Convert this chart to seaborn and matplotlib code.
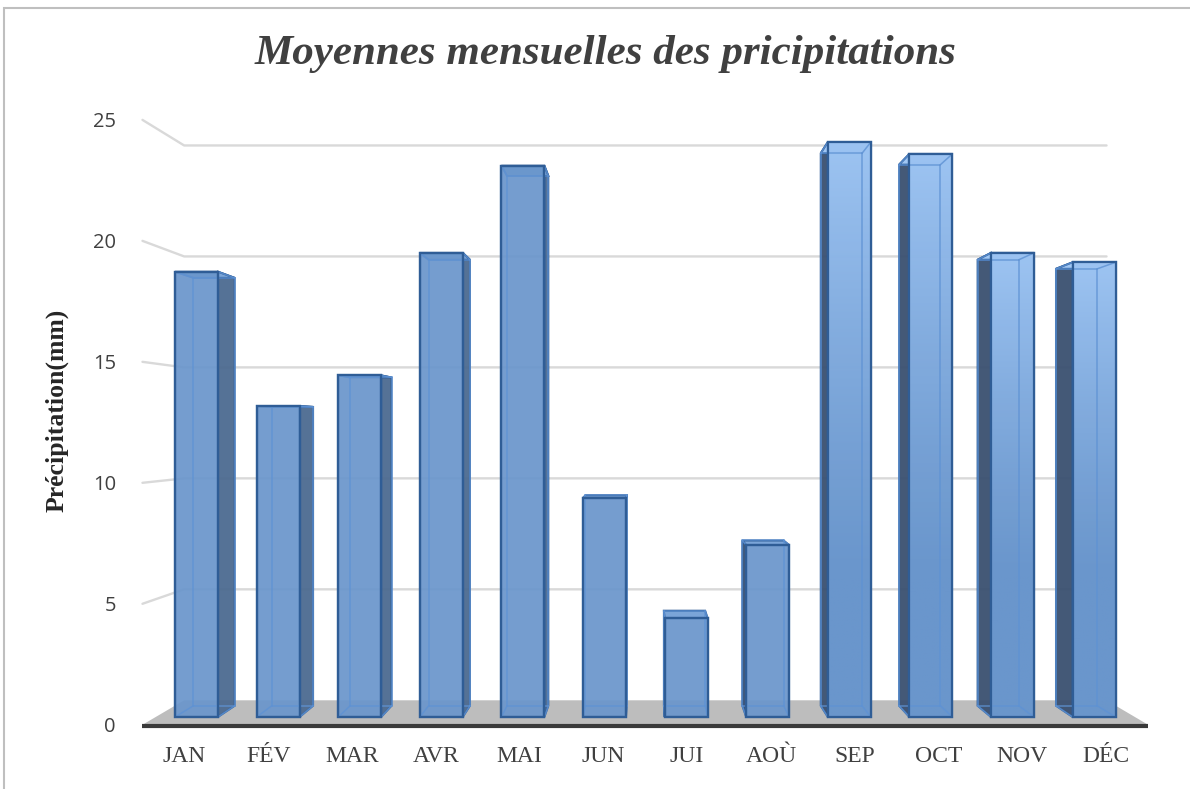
import numpy as np
import matplotlib.pyplot as plt
import seaborn as sns
from matplotlib.patches import Polygon, Rectangle
from matplotlib.colors import to_rgb

months = ["JAN", "FÉV", "MAR", "AVR", "MAI", "JUN", "JUI", "AOÙ", "SEP", "OCT", "NOV", "DÉC"]
precip = [18.9, 13.2, 14.5, 19.7, 23.4, 9.3, 4.2, 7.3, 24.4, 23.9, 19.7, 19.3]
yticks = [0, 5, 10, 15, 20, 25]
title = "Moyennes mensuelles des pricipitations"
ylabel = "Précipitation(mm)"

W, H = 1190, 789
# pixel layout of the bars' front plane
x0, xstep = 196.5, 81.6
y0, ystep = 717, 23.56
bar_w = 0.527

# fake 3D: every depth plane is a scaling around the vanishing centre
vx = (646 - x0) / xstep
vy = (y0 - 429) / ystep
S_FRONT, S_BACK, S_WALL = 1.027, 0.961, 0.942


def proj(x, y, s):
    return vx + s * (x - vx), vy + s * (y - vy)


front_col = "#6A96CC"
light_col = "#A0C7F5"
edge_col = "#2F5D96"
inner_col = "#5E92D4"
side_left_bars = "#4C6A90"
side_right_bars = "#3A5070"

sns.set_theme(style="white")
plt.rcParams['font.family'] = ['Open Sans', 'DejaVu Sans']

fig = plt.figure(figsize=(W / 100, H / 100), dpi=100)
xlim = (-0.75, 11.75)
ylim = (-0.6, 26.5)
left = x0 + xlim[0] * xstep
right = x0 + xlim[1] * xstep
bottom = H - (y0 - ylim[0] * ystep)
top = H - (y0 - ylim[1] * ystep)
ax = fig.add_axes([left / W, bottom / H, (right - left) / W, (top - bottom) / H])

sns.barplot(x=months, y=precip, order=months, width=bar_w, color=front_col,
            saturation=1, edgecolor=edge_col, linewidth=1.6, alpha=0.93,
            zorder=3, ax=ax)
ax.set_xlim(*xlim)
ax.set_ylim(*ylim)

# back wall gridlines with the little diagonal on the left
for g in yticks[1:]:
    pts = [proj(-0.5, g, S_FRONT), proj(-0.5, g, S_WALL), proj(11.5, g, S_WALL)]
    ax.plot([p[0] for p in pts], [p[1] for p in pts], color="#D9D9D9",
            lw=1.7, zorder=0.5, clip_on=False)

# floor
floor = [proj(-0.5, 0, S_FRONT), proj(11.5, 0, S_FRONT),
         proj(11.5, 0, S_WALL), proj(-0.5, 0, S_WALL)]
ax.add_patch(Polygon(floor, closed=True, facecolor="#BDBDBD", edgecolor="none",
                     zorder=1, clip_on=False))
ax.plot([floor[0][0], floor[1][0]], [floor[0][1] - 0.05, floor[1][1] - 0.05],
        color="#3A3A3A", lw=3, zorder=1.5, solid_capstyle="butt", clip_on=False)

# side faces, top faces and see-through edges
for i, bar in enumerate(ax.patches[:len(precip)]):
    xl = bar.get_x()
    xr = xl + bar.get_width()
    h = bar.get_height()
    cx = xl + bar.get_width() / 2
    bl, br = proj(xl, 0, S_BACK), proj(xr, 0, S_BACK)
    tl, tr = proj(xl, h, S_BACK), proj(xr, h, S_BACK)
    if cx < vx:
        side = [(xr, 0), (xr, h), tr, br]
        scol = side_left_bars
    else:
        side = [(xl, 0), (xl, h), tl, bl]
        scol = side_right_bars
    ax.add_patch(Polygon(side, closed=True, facecolor=scol, edgecolor=edge_col,
                         lw=1.4, alpha=0.95, zorder=2, clip_on=False))
    topc = light_col if i >= 8 else "#7BA5D8"
    ax.add_patch(Polygon([(xl, h), (xr, h), tr, tl], closed=True, facecolor=topc,
                         edgecolor=edge_col, lw=1.4, zorder=2.5, clip_on=False))

    # lighter gradient on the right-hand bars
    if i >= 8:
        n = 200
        ys = np.linspace(0, h, n)
        f = np.clip((ys - 6) / (h - 6), 0, 1) ** 1.2
        c0, c1 = np.array(to_rgb(front_col)), np.array(to_rgb(light_col))
        img = (c0[None, :] * (1 - f[:, None]) + c1[None, :] * f[:, None])[:, None, :]
        im = ax.imshow(img, extent=(xl, xr, 0, h), origin="lower", aspect="auto",
                       zorder=3.1, alpha=0.93)
        im.set_clip_path(bar)

    inner = [(bl, br), (tl, tr), (bl, tl), (br, tr),
             ((xl, 0), bl), ((xr, 0), br), ((xl, h), tl), ((xr, h), tr)]
    for a, b in inner:
        ax.plot([a[0], b[0]], [a[1], b[1]], color=inner_col, lw=1.1,
                alpha=0.8, zorder=3.2, clip_on=False)
    ax.add_patch(Rectangle((xl, 0), xr - xl, h, fill=False, edgecolor=edge_col,
                           lw=1.6, zorder=3.4, clip_on=False))

# ticks live on the front plane
ax.set_yticks([proj(0, t, S_FRONT)[1] for t in yticks],
              [str(t) for t in yticks])
ax.set_xticks([proj(i, 0, S_FRONT)[0] for i in range(len(months))], months)
ax.tick_params(axis="y", length=0, pad=14, labelsize=14.5, labelcolor="#404040")
ax.tick_params(axis="x", length=0, pad=11, labelsize=17, labelcolor="#404040")
for lab in ax.get_xticklabels():
    lab.set_fontfamily("Liberation Serif")
for s in ax.spines.values():
    s.set_visible(False)
ax.grid(False)
ax.set_facecolor("none")
ax.set_xlabel("")
ax.set_ylabel("")

fig.text(57 / W, 1 - 410 / H, ylabel, rotation=90, ha="center", va="center",
         fontfamily="Liberation Serif", fontweight="bold", fontsize=18.5,
         color="#262626")
fig.text(605 / W, 1 - 54 / H, title, ha="center", va="center",
         fontfamily="Liberation Serif", fontweight="bold", fontstyle="italic",
         fontsize=31, color="#404040")

fig.add_artist(Rectangle((4 / W, -0.1), 1.2, 1.1 - 8 / H, transform=fig.transFigure,
                         fill=False, edgecolor="#BFBFBF", lw=1.5))

fig.savefig("out.png", dpi=100)
